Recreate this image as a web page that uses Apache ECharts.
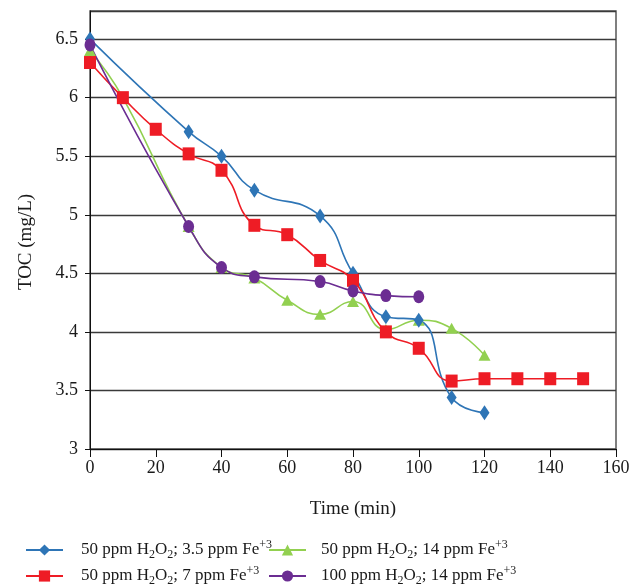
<!DOCTYPE html>
<html>
<head>
<meta charset="utf-8">
<script src="https://cdn.jsdelivr.net/npm/echarts@6/dist/echarts.min.js"></script>
<style>
html, body { margin: 0; padding: 0; background: #fff; }
#chart { width: 633px; height: 586px; }
</style>
</head>
<body>
<div id="chart"></div>
<script>
// TOC decay over time for four Fenton dosing conditions
const timeA = [0, 30, 40, 50, 70, 80, 90, 100, 110, 120];
const tocA  = [6.50, 5.71, 5.50, 5.21, 4.99, 4.50, 4.13, 4.10, 3.44, 3.31];

const timeB = [0, 10, 20, 30, 40, 50, 60, 70, 80, 90, 100, 110, 120, 130, 140, 150];
const tocB  = [6.30, 6.00, 5.73, 5.52, 5.38, 4.91, 4.83, 4.61, 4.44, 4.00, 3.86, 3.58, 3.60, 3.60, 3.60, 3.60];

const timeC = [0, 10, 30, 40, 50, 60, 70, 80, 90, 100, 110, 120];
const tocC  = [6.40, 6.00, 4.90, 4.55, 4.46, 4.27, 4.15, 4.26, 4.02, 4.10, 4.03, 3.80];

const timeD = [0, 30, 40, 50, 70, 80, 90, 100];
const tocD  = [6.45, 4.90, 4.55, 4.47, 4.43, 4.35, 4.31, 4.30];

const nameA = '50 ppm H2O2; 3.5 ppm Fe+3';
const nameB = '50 ppm H2O2; 7 ppm Fe+3';
const nameC = '50 ppm H2O2; 14 ppm Fe+3';
const nameD = '100 ppm H2O2; 14 ppm Fe+3';

const xTicks = { min: 0, max: 160, interval: 20 };
const yTicks = { min: 3, max: 6.74, interval: 0.5 };

const SERIF = '"Liberation Serif", "DejaVu Serif", serif';
const INK = '#1a1a1a';
const zip = (xs, ys) => xs.map((x, i) => [x, ys[i]]);

// legend labels with chemical subscripts / charge superscripts
const legendRich = {
  n:   { fontFamily: SERIF, fontSize: 17, color: INK, lineHeight: 22 },
  sub: { fontFamily: SERIF, fontSize: 12, color: INK, lineHeight: 10, verticalAlign: 'bottom' },
  sup: { fontFamily: SERIF, fontSize: 12, color: INK, lineHeight: 12, verticalAlign: 'top' }
};
function richName(name) {
  const m = name.match(/^(\d+) ppm H2O2; ([\d.]+) ppm Fe\+3$/);
  return '{n|' + m[1] + ' ppm H}{sub|2}{n|O}{sub|2}{n|; ' + m[2] + ' ppm Fe}{sup|+3}';
}
function legendAt(name, left, top, textGap) {
  const rich = JSON.parse(JSON.stringify(legendRich));
  return {
    data: [name],
    left: left, top: top,
    orient: 'horizontal',
    itemWidth: 37, itemHeight: 14,
    padding: 0,
    formatter: n => '{pad|}' + richName(n),
    textStyle: { rich: Object.assign(rich, { pad: { width: textGap, lineHeight: 22 } }) }
  };
}

const chart = echarts.init(document.getElementById('chart'), null, { renderer: 'canvas' });
const ellipse = 'path://M0,-1A1,1 0 1,1 0,1A1,1 0 1,1 0,-1Z';

chart.setOption({
  animation: false,
  backgroundColor: '#fff',
  grid: {
    left: 90, right: 17, top: 11, bottom: 137,
    show: true, borderColor: '#555', borderWidth: 1.5, backgroundColor: 'transparent'
  },
  legend: [
    legendAt(nameA, 25, 539, 13),
    legendAt(nameC, 268, 539, 10),
    legendAt(nameB, 25, 565, 13),
    legendAt(nameD, 268, 565, 10)
  ],
  xAxis: {
    type: 'value',
    min: xTicks.min, max: xTicks.max, interval: xTicks.interval,
    name: 'Time (min)', nameLocation: 'middle', nameGap: 51,
    nameTextStyle: { fontFamily: SERIF, fontSize: 19, color: INK },
    axisLine: { onZero: false, lineStyle: { color: '#111', width: 1 } },
    axisTick: { show: true, inside: false, length: 8, lineStyle: { color: '#111' } },
    axisLabel: { fontFamily: SERIF, fontSize: 18, color: INK, margin: 10 },
    splitLine: { show: false }
  },
  yAxis: {
    type: 'value',
    min: yTicks.min, max: yTicks.max, interval: yTicks.interval,
    name: 'TOC (mg/L)', nameLocation: 'middle', nameGap: 54, nameRotate: 90,
    nameTextStyle: { fontFamily: SERIF, fontSize: 19, color: INK, padding: [0, 24, 0, 0] },
    axisLine: { show: true, onZero: false, lineStyle: { color: '#111', width: 1 } },
    axisTick: { show: true, inside: false, length: 5, lineStyle: { color: '#111' } },
    axisLabel: {
      fontFamily: SERIF, fontSize: 18, color: INK, margin: 12, showMaxLabel: false,
      formatter: v => (Math.abs(v - Math.round(v)) < 1e-9 ? String(Math.round(v)) : v.toFixed(1))
    },
    splitLine: { show: true, lineStyle: { color: '#3a3a3a', width: 1.3 } }
  },
  series: [
    {
      name: nameC, type: 'line', smooth: 0.5, data: zip(timeC, tocC),
      symbol: 'triangle', symbolSize: [12, 11],
      lineStyle: { color: '#92d050', width: 1.6 },
      itemStyle: { color: '#92d050' }
    },
    {
      name: nameA, type: 'line', smooth: 0.5, data: zip(timeA, tocA),
      symbol: 'diamond', symbolSize: [10, 15],
      lineStyle: { color: '#2e75b6', width: 1.6 },
      itemStyle: { color: '#2e75b6' }
    },
    {
      name: nameB, type: 'line', smooth: 0.5, data: zip(timeB, tocB),
      symbol: 'rect', symbolSize: [12, 13],
      lineStyle: { color: '#ee1c25', width: 1.6 },
      itemStyle: { color: '#ee1c25' }
    },
    {
      name: nameD, type: 'line', smooth: 0.5, data: zip(timeD, tocD),
      symbol: ellipse, symbolSize: [11, 13],
      lineStyle: { color: '#6b2d92', width: 1.6 },
      itemStyle: { color: '#6b2d92' }
    }
  ]
});
</script>
</body>
</html>
